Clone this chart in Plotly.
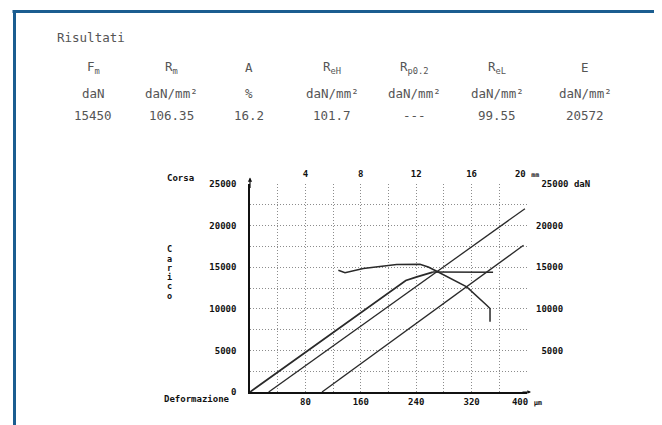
import plotly.graph_objects as go

# ---- data ----
table_headers = ["F<sub>m</sub>", "R<sub>m</sub>", "A", "R<sub>eH</sub>", "R<sub>p0.2</sub>", "R<sub>eL</sub>", "E"]
table_units = ["daN", "daN/mm²", "%", "daN/mm²", "daN/mm²", "daN/mm²", "daN/mm²"]
table_values = ["15450", "106.35", "16.2", "101.7", "---", "99.55", "20572"]

# load vs deformation (µm, daN)
main_def = [0, 225, 241, 264]
main_load = [0, 13400, 13830, 14420]
plateau_def = [264, 351]
plateau_load = [14420, 14400]
offset1_def = [27, 397]
offset1_load = [0, 22030]
offset2_def = [104, 395]
offset2_load = [0, 17630]

# load vs stroke (mm, daN)
corsa_mm = [6.38, 6.86, 8.18, 10.59, 12.27, 12.87, 13.48, 15.65, 17.09, 17.33, 17.33]
corsa_load = [14630, 14350, 14830, 15310, 15350, 15020, 14510, 12630, 10430, 10040, 8430]

def_ticks = [80, 160, 240, 320, 400]
def_ticktext = ["80", "160", "240", "320", "400\u00a0<span style='font-size:7px'>µm</span>"]
corsa_ticks = [4, 8, 12, 16, 20]
corsa_ticktext = ["4", "8", "12", "16", "20\u00a0<span style='font-size:6.5px'>mm</span>"]
load_ticks = [0, 5000, 10000, 15000, 20000, 25000]
load_ticktext = ["0", "5000", "10000", "15000", "20000", "25000"]
right_ticks = [5000, 10000, 15000, 20000, 25000]
right_ticktext = ["\u00a05000", "10000", "15000", "20000", "\u00a025000 daN"]

# ---- geometry (window pixels; page body adds an 8px margin) ----
W, H = 662, 425
BODY = 8
L, R, T, B = 250, 527, 183.5, 392

def px(x):
    return (x - L) / (R - L)

def py(y):
    return (B - y) / (B - T)

LINE = "#2a2a2a"
MONO = "DejaVu Sans Mono"
tickfont = dict(family=MONO, size=9, color="#111", weight="bold")
GRIDC = "#8c8c8c"
GDASH = "1px,2px"

fig = go.Figure()
fig.add_trace(go.Scatter(x=main_def, y=main_load, mode="lines",
                         line=dict(color=LINE, width=1.8), hoverinfo="skip"))
fig.add_trace(go.Scatter(x=plateau_def, y=plateau_load, mode="lines",
                         line=dict(color=LINE, width=1.4), hoverinfo="skip"))
fig.add_trace(go.Scatter(x=offset1_def, y=offset1_load, mode="lines",
                         line=dict(color=LINE, width=1.3), hoverinfo="skip"))
fig.add_trace(go.Scatter(x=offset2_def, y=offset2_load, mode="lines",
                         line=dict(color=LINE, width=1.3), hoverinfo="skip"))
fig.add_trace(go.Scatter(x=corsa_mm, y=corsa_load, mode="lines", xaxis="x2", yaxis="y2",
                         line=dict(color=LINE, width=1.5), hoverinfo="skip"))

grid = dict(showgrid=True, gridcolor=GRIDC, griddash=GDASH, gridwidth=1)
minor_x = dict(dtick=40, tick0=0, showgrid=True, gridcolor=GRIDC, griddash=GDASH, gridwidth=1, ticks="")
minor_y = dict(dtick=2500, tick0=0, showgrid=True, gridcolor=GRIDC, griddash=GDASH, gridwidth=1, ticks="")

fig.update_layout(
    width=W, height=H,
    margin=dict(l=L - BODY, r=W - R + BODY, t=T - BODY, b=H - B + BODY, pad=0),
    paper_bgcolor="white", plot_bgcolor="white",
    showlegend=False,
    xaxis=dict(range=[0, 400], tickmode="array", tickvals=def_ticks, ticktext=def_ticktext,
               tickfont=tickfont, ticks="", showline=True, linecolor="#111", linewidth=1.5,
               zeroline=False, minor=minor_x, fixedrange=True, ticklabelstandoff=0, **grid),
    yaxis=dict(range=[0, 25000], tickmode="array", tickvals=load_ticks, ticktext=load_ticktext,
               tickfont=tickfont, ticks="", showline=True, linecolor="#111", linewidth=1.5,
               zeroline=False, minor=minor_y, fixedrange=True, ticklabelstandoff=10, **grid),
    xaxis2=dict(range=[0, 20], overlaying="x", side="top", anchor="y2", tickmode="array",
                tickvals=corsa_ticks, ticktext=corsa_ticktext, tickfont=tickfont,
                ticks="outside", ticklen=2, tickcolor="rgba(0,0,0,0)",
                showgrid=False, showline=False, zeroline=False, fixedrange=True,
                ticklabelstandoff=0),
    yaxis2=dict(range=[0, 25000], overlaying="y", side="right", anchor="x2", tickmode="array",
                tickvals=right_ticks, ticktext=right_ticktext, tickfont=tickfont, ticks="",
                showgrid=False, showline=False, zeroline=False, fixedrange=True,
                ticklabelstandoff=8),
)

ann = []
# results table
tfont = dict(family=MONO, size=12.5, color="#555555")
ann.append(dict(x=px(55), y=py(37), xref="paper", yref="paper", text="Risultati",
                showarrow=False, xanchor="left", yanchor="middle", font=tfont))
cols = [93, 171, 249, 332, 414, 497, 585]
for cx, h, u, v in zip(cols, table_headers, table_units, table_values):
    ann.append(dict(x=px(cx), y=py(67), xref="paper", yref="paper", text=h, showarrow=False,
                    xanchor="center", yanchor="middle", font=tfont))
    ann.append(dict(x=px(cx), y=py(93), xref="paper", yref="paper", text=u, showarrow=False,
                    xanchor="center", yanchor="middle", font=tfont))
    ann.append(dict(x=px(cx), y=py(115), xref="paper", yref="paper", text=v, showarrow=False,
                    xanchor="center", yanchor="middle", font=tfont))

lfont = dict(family=MONO, size=9, color="#111", weight="bold")
ann.append(dict(x=px(180), y=py(177), xref="paper", yref="paper", text="Corsa",
                showarrow=False, xanchor="center", yanchor="middle", font=lfont))
ann.append(dict(x=px(232), y=py(399), xref="paper", yref="paper", text="Deformazione",
                showarrow=False, xanchor="right", yanchor="middle", font=lfont))
for i, ch in enumerate("Carico"):
    ann.append(dict(x=px(169), y=py(249 + i * 9.3), xref="paper", yref="paper", text=ch,
                    showarrow=False, xanchor="center", yanchor="middle",
                    font=dict(family=MONO, size=8.5, color="#111", weight="bold")))
# axis arrows
ann.append(dict(x=0, y=py(177), xref="paper", yref="paper", ax=0, ay=12, text="",
                showarrow=True, arrowhead=2, arrowsize=0.7, arrowwidth=1.2, arrowcolor="#111"))
ann.append(dict(x=px(531), y=0, xref="paper", yref="paper", ax=-10, ay=0, text="",
                showarrow=True, arrowhead=2, arrowsize=0.6, arrowwidth=1.2, arrowcolor="#111"))
fig.update_layout(annotations=ann)

# blue frame (top and left edges)
fig.add_shape(type="line", xref="paper", yref="paper", x0=px(12.5), x1=px(W + 5),
              y0=py(10.5), y1=py(10.5), line=dict(color="#1b5d90", width=3))
fig.add_shape(type="line", xref="paper", yref="paper", x0=px(14.5), x1=px(14.5),
              y0=py(9), y1=py(H + 5), line=dict(color="#1b5d90", width=3))

fig.write_html("out.html")
